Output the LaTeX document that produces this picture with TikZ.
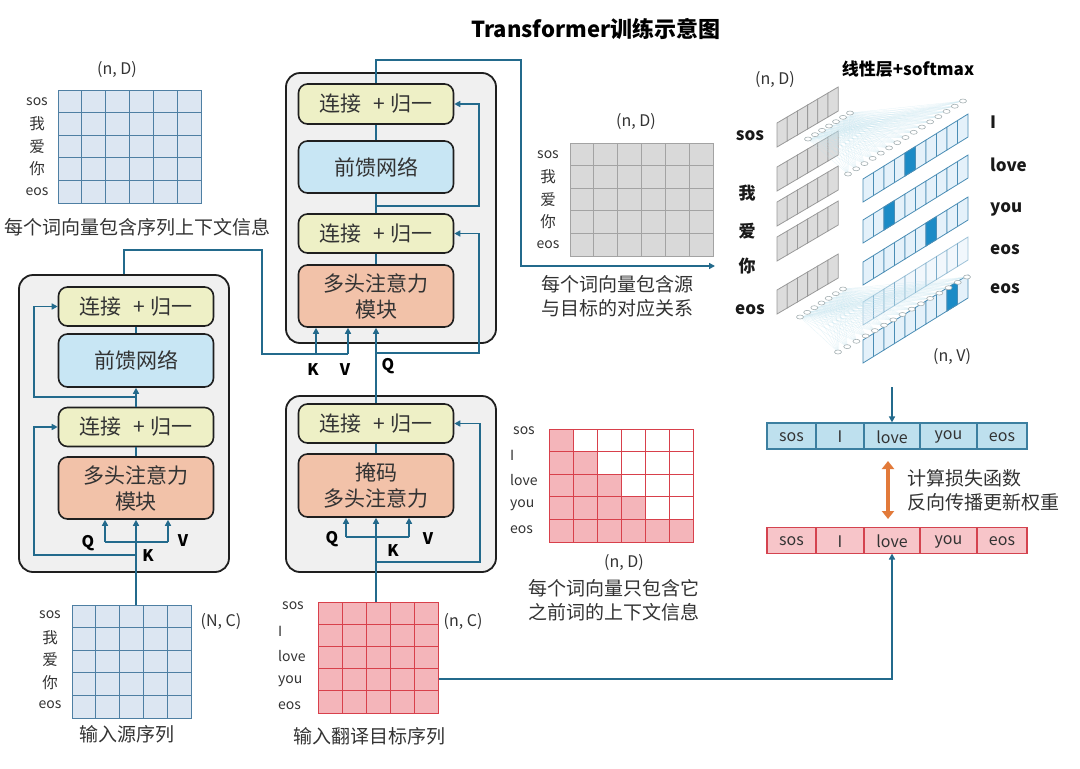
\documentclass[tikz,border=0pt]{standalone}
\usepackage{fontspec}
\setmainfont{Noto Sans CJK SC}
\usetikzlibrary{arrows.meta}
\definecolor{lc}{HTML}{236A8C}
\definecolor{txt}{HTML}{333333}
\definecolor{blkfill}{HTML}{F0F0F0}
\definecolor{yfill}{HTML}{EEF0C6}
\definecolor{ffill}{HTML}{C8E6F4}
\definecolor{afill}{HTML}{F2C2A9}
\definecolor{bmf}{HTML}{DCE6F2}
\definecolor{bms}{HTML}{4E7FA3}
\definecolor{gmf}{HTML}{D9D9D9}
\definecolor{gms}{HTML}{A3A3A3}
\definecolor{rmf}{HTML}{F4B5BA}
\definecolor{rms}{HTML}{D8404B}
\definecolor{barbf}{HTML}{BEE0EE}
\definecolor{barbs}{HTML}{3C7FA0}
\definecolor{barrf}{HTML}{F7C5C9}
\definecolor{barrs}{HTML}{D4434F}
\definecolor{gsf}{HTML}{DCDCDC}
\definecolor{gss}{HTML}{9A9A9A}
\definecolor{bsf}{HTML}{E4F1FA}
\definecolor{bss}{HTML}{4A8DB5}
\definecolor{bhi}{HTML}{1B8BC6}
\definecolor{fanc}{HTML}{BFE3EF}
\definecolor{orng}{HTML}{E27A3A}
\newcommand{\fsz}[2]{\fontsize{#1}{#2}\selectfont}
% grid lines: x0 y0 x1 y1 innerCols innerRows color
\newcommand{\gridl}[7]{%
  \foreach \i in {1,...,#5} \draw[#7, line width=0.9pt] ({#1+(#3-#1)*\i/(#5+1)},#2) -- ({#1+(#3-#1)*\i/(#5+1)},#4);
  \foreach \j in {1,...,#6} \draw[#7, line width=0.9pt] (#1,{#2+(#4-#2)*\j/(#6+1)}) -- (#3,{#2+(#4-#2)*\j/(#6+1)});
}
% gray strip cell: x0 y0 i
\newcommand{\gcell}[3]{\filldraw[fill=gsf, draw=gss, line width=0.8pt] ({#1+#3*10.2},{#2-#3*6.0}) -- ++(10.2,-6.0) -- ++(0,24) -- ++(-10.2,6.0) -- cycle;}
\newcommand{\gstrip}[1]{\foreach \i in {0,...,5} {\gcell{777}{#1}{\i}}}
% blue strip cell: y0 i fill
\newcommand{\bcell}[3]{\filldraw[fill=#3, draw=bss, line width=0.8pt] ({863+#2*10.5},{#1-#2*6.5}) -- ++(10.5,-6.5) -- ++(0,23) -- ++(-10.5,6.5) -- cycle;}
\newcommand{\bstrip}[2]{\foreach \i in {0,...,9} {\bcell{#1}{\i}{bsf}} \bcell{#1}{#2}{bhi}}
\tikzset{
  ln/.style={draw=lc, line width=1.5pt},
  arr/.style={ln, -{Triangle[length=6pt,width=6pt]}},
  blk/.style={draw=black!88, line width=1.8pt, rounded corners=14pt, fill=blkfill, inner sep=0},
  box/.style={draw=black!88, line width=1.6pt, rounded corners=9pt, minimum width=155pt, inner sep=0, font=\fsz{21}{26}, text=txt, align=center},
  addn/.style={box, fill=yfill, minimum height=39pt},
  ffn/.style={box, fill=ffill, minimum height=53pt},
  att/.style={box, fill=afill, minimum height=62pt},
  lbl/.style={font=\fsz{14}{16}, text=txt, inner sep=0},
  clbl/.style={font=\fsz{15.5}{17}, text=txt, inner sep=0},
  capt/.style={font=\fsz{19}{24}, text=txt, align=center, inner sep=0},
  qkv/.style={font=\fsz{16}{18}\bfseries, text=black, inner sep=0},
  dimn/.style={font=\fsz{16}{18}, text=txt, inner sep=0},
  rlbl/.style={font=\fsz{17}{20}\bfseries, text=black!90, inner sep=0},
  mat/.style={inner sep=0, line width=1pt},
  bar/.style={inner sep=0, line width=1.2pt, minimum width=260pt, minimum height=26pt},
  bartxt/.style={font=\fsz{16}{18}, text=txt, inner sep=0},
  fanl/.style={draw=fanc, line width=0.25pt, opacity=0.45},
  fancirc/.style={draw=gss!70!fanc, fill=white, line width=0.6pt},
}
\begin{document}
\begin{tikzpicture}[x=1pt,y=-1pt]
\useasboundingbox (0,0) rectangle (1080,769);
\fill[white] (0,0) rectangle (1080,769);

% title
\node[font=\fsz{22}{24}\bfseries, text=black] (title) at (596,29) {Transformer训练示意图};

% ---------------- top-left matrix
\node[mat, draw=bms, fill=bmf, minimum width=143pt, minimum height=113pt] (mTL) at (129.5,146.5) {};
\gridl{58}{90}{201}{203}{5}{4}{bms}
\node[dimn] (dTL) at (117,70) {(n, D)};
\node[lbl] (tl1) at (37,101.3) {sos};
\node[clbl] (tl2) at (37,123.9) {我};
\node[clbl] (tl3) at (37,146.5) {爱};
\node[clbl] (tl4) at (37,169.1) {你};
\node[lbl] (tl5) at (37,191.7) {eos};
\node[capt] (cTL) at (138,227) {每个词向量包含序列上下文信息};

% ---------------- encoder block
\node[blk, minimum width=210pt, minimum height=297pt] (enc) at (124,423.5) {};
\node[addn] (eA1) at (136,306.5) {连接\hspace{0.55em}+\hspace{0.25em}归一};
\node[ffn] (eF) at (136,360.5) {前馈网络};
\node[addn] (eA2) at (136,427) {连接\hspace{0.55em}+\hspace{0.25em}归一};
\node[att] (eM) at (136,488) {多头注意力\\模块};
\draw[ln] (eM.north) -- (eA2.south);
\draw[arr] (eA2.north) -- (eF.south);
\draw[ln] (eF.north) -- (eA1.south);
\coordinate (eQ) at (105,542);
\coordinate (eV) at (168,542);
\coordinate (eS1) at (136,555);
\coordinate (eS2) at (136,397);
\draw[ln] (eQ) -- (eV);
\draw[arr] (eQ) -- (eQ |- eM.south);
\draw[arr] (eV) -- (eV |- eM.south);
\draw[arr] (eS1) -| (34,427) -- (eA2.west);
\draw[arr] (eS2) -| (34,306.5) -- (eA1.west);
\node[qkv] (eQl) at (88,543) {Q};
\node[qkv] (eKl) at (148,556) {K};
\node[qkv] (eVl) at (183,541) {V};

% ---------------- source matrix
\node[mat, draw=bms, fill=bmf, minimum width=119pt, minimum height=113pt] (mSrc) at (131.5,661.5) {};
\gridl{72}{605}{191}{718}{4}{4}{bms}
\node[lbl] (s1) at (50,615) {sos};
\node[clbl] (s2) at (50,638) {我};
\node[clbl] (s3) at (50,660) {爱};
\node[clbl] (s4) at (50,683) {你};
\node[lbl] (s5) at (50,705) {eos};
\node[dimn] (dSrc) at (221,622) {(N, C)};
\node[capt] (cSrc) at (127,734) {输入源序列};
\draw[arr] (mSrc.north -| eM.south) -- (eM.south);

% ---------------- decoder upper block
\node[blk, minimum width=210pt, minimum height=270pt] (dec) at (391,208) {};
\node[addn, minimum height=40pt] (dA1) at (376,104) {连接\hspace{0.55em}+\hspace{0.25em}归一};
\node[ffn, minimum height=52pt] (dF) at (376,167) {前馈网络};
\node[addn] (dA2) at (376,233.5) {连接\hspace{0.55em}+\hspace{0.25em}归一};
\node[att] (dM) at (376,296) {多头注意力\\模块};
\draw[ln] (dM.north) -- (dA2.south);
\draw[ln] (dA2.north) -- (dF.south);
\draw[ln] (dF.north) -- (dA1.south);
\coordinate (dS1) at (376,206);
\coordinate (dS2) at (376,353);
\draw[arr] (dS1) -| (479,104) -- (dA1.east);
\draw[arr] (dS2) -| (479,233.5) -- (dA2.east);
% encoder output to K,V
\coordinate (dK) at (316,354);
\coordinate (dV) at (348,354);
\draw[ln] (enc.north) -- (124,250) -| (262,354) -- (dV);
\draw[arr] (dK) -- (dK |- dM.south);
\draw[arr] (dV) -- (dV |- dM.south);
\node[qkv] (dKl) at (313,370) {K};
\node[qkv] (dVl) at (345,370) {V};
\node[qkv] (dQl) at (388,366) {Q};
% output of decoder
\draw[arr] (dA1.north) -- (376,60) -| (521,266) -- (715,266);

% ---------------- decoder lower block
\node[blk, minimum width=210pt, minimum height=176pt] (mdec) at (391,484) {};
\node[addn] (mA) at (376,423.5) {连接\hspace{0.55em}+\hspace{0.25em}归一};
\node[att, minimum height=63pt] (mM) at (376,485.5) {掩码\\多头注意力};
\draw[ln] (mM.north) -- (mA.south);
\draw[arr] (mA.north) -- (dM.south);
\coordinate (mS) at (376,562);
\draw[arr] (mS) -| (480,423.5) -- (mA.east);
\coordinate (mQ) at (346,537);
\coordinate (mV) at (409,537);
\draw[ln] (mQ) -- (mV);
\draw[arr] (mQ) -- (mQ |- mM.south);
\draw[arr] (mV) -- (mV |- mM.south);
\node[qkv] (mQl) at (332,539) {Q};
\node[qkv] (mKl) at (393,551) {K};
\node[qkv] (mVl) at (428,539) {V};

% ---------------- target matrix
\node[mat, draw=rms, fill=rmf, minimum width=120pt, minimum height=111pt] (mTgt) at (378,657.5) {};
\gridl{318}{602}{438}{713}{4}{4}{rms}
\node[lbl, anchor=west] (t1) at (282,606) {sos};
\node[lbl, anchor=west] (t2) at (278,631) {I};
\node[lbl, anchor=west] (t3) at (278,656) {love};
\node[lbl, anchor=west] (t4) at (278,681) {you};
\node[lbl, anchor=west] (t5) at (278,706) {eos};
\node[dimn] (dTgt) at (463,622) {(n, C)};
\node[capt] (cTgt) at (369,736) {输入翻译目标序列};
\draw[arr] (mTgt.north -| mM.south) -- (mM.south);

% ---------------- gray matrix
\node[mat, draw=gms, fill=gmf, minimum width=143pt, minimum height=113pt] (mG) at (641.5,199.5) {};
\gridl{570}{143}{713}{256}{5}{4}{gms}
\node[lbl] (g1) at (548,154.3) {sos};
\node[clbl] (g2) at (548,176.9) {我};
\node[clbl] (g3) at (548,199.5) {爱};
\node[clbl] (g4) at (548,222.1) {你};
\node[lbl] (g5) at (548,244.7) {eos};
\node[dimn] (dG) at (636,122) {(n, D)};
\node[capt] (cG) at (617,296) {每个词向量包含源\\与目标的对应关系};

% ---------------- mask matrix
\node[mat, draw=rms, fill=white, minimum width=144pt, minimum height=113pt] (mMask) at (621,485.5) {};
\foreach \r/\c in {0/0,1/1,2/2,3/3,4/5}
  \fill[rmf] (549,{429+22.6*\r}) rectangle ({549+24*(\c+1)},{429+22.6*(\r+1)});
\gridl{549}{429}{693}{542}{5}{4}{rms}
\draw[rms, line width=1pt] (549,429) rectangle (693,542);
\node[lbl, anchor=west] (k1) at (513,431) {sos};
\node[lbl, anchor=west] (k2) at (510,455) {I};
\node[lbl, anchor=west] (k3) at (510,480) {love};
\node[lbl, anchor=west] (k4) at (510,505) {you};
\node[lbl, anchor=west] (k5) at (510,530) {eos};
\node[dimn] (dMask) at (624,563) {(n, D)};
\node[capt] (cMask) at (614,600) {每个词向量只包含它\\之前词的上下文信息};

% ---------------- linear + softmax
\node[font=\fsz{17}{20}\bfseries, text=black, inner sep=0] (lin) at (908,69) {线性层+softmax};
\node[dimn] (dR1) at (775,80) {(n, D)};
\node[dimn] (dR2) at (952,357) {(n, V)};
\gstrip{123}
\gstrip{167}
\gstrip{202}
\gstrip{237}
\gstrip{290}
\bstrip{179}{4}
\bstrip{220}{2}
\bstrip{262}{6}
\begin{scope}[opacity=0.5]
\foreach \i in {0,...,9} {\bcell{302}{\i}{bsf}}
\end{scope}
\bstrip{340}{8}
% top fan
\foreach \a in {0,...,6} \foreach \b in {0,...,14}
  \draw[fanl] ({808+42*\a/6},{139-26*\a/6}) -- ({848+115*\b/14},{174-73*\b/14});
\foreach \a in {0,...,6} \draw[fancirc] ({808+42*\a/6},{139-26*\a/6}) ellipse (3.5 and 2);
\foreach \b in {0,...,14} \draw[fancirc] ({848+115*\b/14},{174-73*\b/14}) ellipse (3.5 and 2);
% bottom fan
\foreach \a in {0,...,6} \foreach \b in {0,...,14}
  \draw[fanl] ({800+43*\a/6},{317-28*\a/6}) -- ({838+129*\b/14},{352-75*\b/14});
\foreach \a in {0,...,6} \draw[fancirc] ({800+43*\a/6},{317-28*\a/6}) ellipse (3.5 and 2);
\foreach \b in {0,...,14} \draw[fancirc] ({838+129*\b/14},{352-75*\b/14}) ellipse (3.5 and 2);
\node[rlbl] (r1) at (750,136) {sos};
\node[rlbl] (r2) at (747,193) {我};
\node[rlbl] (r3) at (747,231) {爱};
\node[rlbl] (r4) at (747,266) {你};
\node[rlbl] (r5) at (750,310) {eos};
\node[rlbl, anchor=west] (o1) at (990,122) {I};
\node[rlbl, anchor=west] (o2) at (990,165) {love};
\node[rlbl, anchor=west] (o3) at (990,209) {you};
\node[rlbl, anchor=west] (o4) at (990,250) {eos};
\node[rlbl, anchor=west] (o5) at (990,289) {eos};

% ---------------- output bars
\node[bar, draw=barbs, fill=barbf] (barB) at (897,436) {};
\node[bar, draw=barrs, fill=barrf] (barR) at (897,540.5) {};
\foreach \x in {816,864,920,977} {
  \draw[barbs, line width=1.2pt] (\x,423) -- (\x,449);
  \draw[barrs, line width=1.2pt] (\x,527.5) -- (\x,553.5);
}
\foreach \x/\t/\n in {791.5/sos/1,840/I/2,892/love/3,948.5/you/4,1002/eos/5} {
  \node[bartxt] (bb\n) at (\x,437) {\t};
  \node[bartxt] (br\n) at (\x,541.5) {\t};
}
\coordinate (cNV) at (892,387);
\draw[arr] (cNV) -- (cNV |- barB.north);
\draw[orng, line width=4pt, {Triangle[length=8pt,width=12pt]}-{Triangle[length=8pt,width=12pt]}] (888,461) -- (888,519);
\node[capt, anchor=west] (loss1) at (907,478) {计算损失函数};
\node[capt, anchor=west] (loss2) at (907,502) {反向传播更新权重};
\draw[arr] ([yshift=-21.5pt]mTgt.east) -| (892,553.5);
\end{tikzpicture}
\end{document}
